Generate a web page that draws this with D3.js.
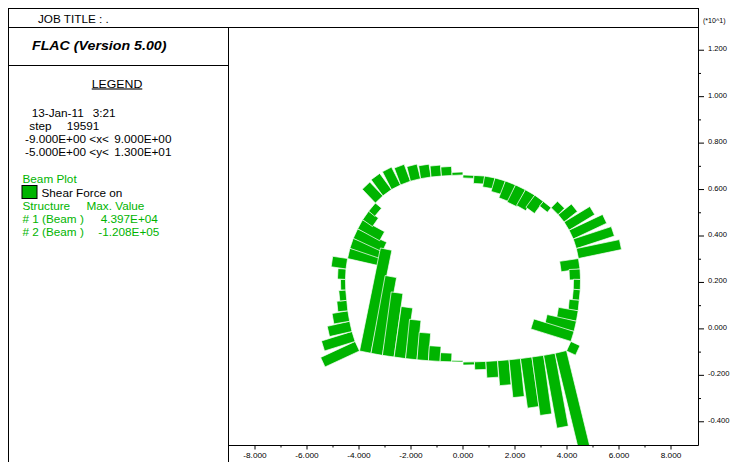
<!DOCTYPE html>
<html>
<head>
<meta charset="utf-8">
<script src="https://cdn.jsdelivr.net/npm/d3@7"></script>
<style>
  html, body { margin: 0; padding: 0; background: #fff; }
  svg { display: block; font-family: "Liberation Sans", Arial, sans-serif; }
</style>
</head>
<body>
<svg id="chart" width="732" height="465"></svg>
<script>
// ---- model window and axis ticks (metres; labels are shown in units of 10) ----
const xDomain = [-9, 9];
const yDomain = [-5, 13];
const xTicks = [-8, -6, -4, -2, 0, 2, 4, 6, 8];
const xMinorTicks = [-7, -5, -3, -1, 1, 3, 5, 7];
const xTickLabels = ["-8.000", "-6.000", "-4.000", "-2.000", "0.000", "2.000", "4.000", "6.000", "8.000"];
const yTicks = [-4, -2, 0, 2, 4, 6, 8, 10, 12];
const yMinorTicks = [-3, -1, 1, 3, 5, 7, 9, 11];
const yTickLabels = ["-0.400", "-0.200", "0.000", "0.200", "0.400", "0.600", "0.800", "1.000", "1.200"];

// ---- structure 1: tunnel lining, nodes from the left invert corner over the crown ----
const liningX = [-3.98, -4.15, -4.27, -4.36, -4.43, -4.47, -4.51, -4.52, -4.50, -4.44, -4.35, -4.22, -4.05,
  -3.86, -3.63, -3.37, -3.08, -2.75, -2.40, -2.02, -1.63, -1.23, -0.83, -0.42, 0,
  0.42, 0.83, 1.23, 1.63, 2.02, 2.40, 2.76, 3.09, 3.39, 3.66, 3.89, 4.08, 4.24, 4.36,
  4.44, 4.50, 4.52, 4.51, 4.47, 4.43, 4.36, 4.27, 4.15, 3.98];
const liningY = [-0.95, -0.54, -0.11, 0.33, 0.78, 1.23, 1.68, 2.13, 2.58, 3.03, 3.47, 3.90, 4.31,
  4.70, 5.07, 5.42, 5.73, 6.00, 6.20, 6.36, 6.47, 6.54, 6.58, 6.61, 6.63,
  6.61, 6.58, 6.50, 6.37, 6.20, 5.99, 5.76, 5.49, 5.22, 4.92, 4.60, 4.25, 3.87, 3.46,
  3.03, 2.58, 2.13, 1.68, 1.23, 0.78, 0.33, -0.11, -0.54, -0.95];
// shear force per beam element (N)
const liningShear = [38000, 32000, 23000, 16000, 10000, 7000, 5000, 8000, 15000,
  -35000, -34000, -32000, -25000, -12000, -8000,
  19000, 20000, 20000, 18000, 15000, 13000, 11000, 9000, 3000,
  -3000, -8000, -11000, -14000, -18000, -19000, -18000, -15000, -6000,
  9000, 17000, 30000, 37000, 40000, 43970,
  -19000, -11000, -7000, -7000, -10000, -20000, -30000, -42000, 10000];

// ---- structure 2: invert, nodes from left corner to right corner ----
const invertX = [-3.98, -3.54, -3.10, -2.65, -2.21, -1.77, -1.33, -0.88, -0.44, 0,
  0.44, 0.88, 1.33, 1.77, 2.21, 2.65, 3.10, 3.54, 3.98];
const invertY = [-0.95, -1.05, -1.14, -1.21, -1.28, -1.33, -1.37, -1.40, -1.42, -1.43,
  -1.42, -1.40, -1.37, -1.33, -1.28, -1.21, -1.14, -1.05, -0.93];
const invertShear = [105000, 79000, 64000, 51000, 39500, 27500, 15000, 8700, 1500,
  -3000, -8000, -16500, -25000, -38000, -50000, -59000, -74000, -120800];

// ---- legend text ----
const legendHeader = ["JOB TITLE : .", "FLAC (Version 5.00)", "LEGEND"];
const legendInfo = [["13-Jan-11", "3:21"], ["step", "19591"],
  ["-9.000E+00 <x<", "9.000E+00"], ["-5.000E+00 <y<", "1.300E+01"]];
const structureNames = ["# 1 (Beam )", "# 2 (Beam )"];
const structureMax = ["4.397E+04", "-1.208E+05"];

const GREEN = "#00b400";
const STRETCH = 1.12;   // text is drawn slightly wide, as in the plotter output

const svg = d3.select("#chart");
const plot = { left: 229, right: 697, top: 27, bottom: 445 };

const x = d3.scaleLinear().domain(xDomain).range([plot.left, plot.right]);
const y = d3.scaleLinear().domain(yDomain).range([plot.bottom, plot.top]);
// bar length in pixels per unit of shear force
const barLen = d3.scaleLinear().domain([0, 43970]).range([0, 44]);

function txt(g, s, px, py, size, opts = {}) {
  return g.append("text")
    .attr("transform", `translate(${px},${py}) scale(${STRETCH},1)`)
    .attr("font-size", size)
    .attr("fill", opts.fill || "#000")
    .attr("font-weight", opts.weight || null)
    .attr("font-style", opts.style || null)
    .attr("text-anchor", opts.anchor || "start")
    .attr("text-decoration", opts.deco || null)
    .text(s);
}

// ---- frame ----
const frame = svg.append("g").attr("stroke", "#000").attr("stroke-width", 1).attr("fill", "none");
frame.append("line").attr("x1", 8).attr("x2", 698.5).attr("y1", 8.5).attr("y2", 8.5);
frame.append("line").attr("x1", 8).attr("x2", 698.5).attr("y1", 27.5).attr("y2", 27.5);
frame.append("line").attr("x1", 8.5).attr("x2", 8.5).attr("y1", 8).attr("y2", 462);
frame.append("line").attr("x1", 228.5).attr("x2", 228.5).attr("y1", 27).attr("y2", 462);
frame.append("line").attr("x1", 8).attr("x2", 228.5).attr("y1", 65.5).attr("y2", 65.5);
frame.append("line").attr("x1", 698.5).attr("x2", 698.5).attr("y1", 8).attr("y2", plot.bottom + 0.5);

// ---- header / legend ----
const lg = svg.append("g");
txt(lg, legendHeader[0], 38, 22.5, 10.5);
txt(lg, legendHeader[1], 32, 50, 12.7, { weight: "bold", style: "italic" });
txt(lg, legendHeader[2], 117, 87.5, 11, { anchor: "middle", deco: "underline" });

const infoRows = [
  { y: 116.7, x0: 31.7, x1: 92.7 },
  { y: 129.5, x0: 29.3, x1: 66.7 },
  { y: 143.3, x0: 25, x1: 114.3 },
  { y: 156.2, x0: 25, x1: 114.3 }
];
legendInfo.forEach((r, i) => {
  txt(lg, r[0], infoRows[i].x0, infoRows[i].y, 10.5);
  txt(lg, r[1], infoRows[i].x1, infoRows[i].y, 10.5);
});

txt(lg, "Beam Plot", 22.5, 183.3, 10.5, { fill: GREEN });
lg.append("rect").attr("x", 22).attr("y", 185.5).attr("width", 15).attr("height", 13)
  .attr("fill", GREEN).attr("stroke", "#000").attr("stroke-width", 1);
txt(lg, "Shear Force on", 41.5, 196.7, 10.5);
txt(lg, "Structure", 22.5, 210, 10.5, { fill: GREEN });
txt(lg, "Max. Value", 86.5, 210, 10.5, { fill: GREEN });
structureNames.forEach((n, i) => {
  const yy = 223.3 + i * 12.8;
  txt(lg, n, 22.5, yy, 10.5, { fill: GREEN });
  txt(lg, structureMax[i], i === 0 ? 100.7 : 98.3, yy, 10.5, { fill: GREEN });
});

// ---- beam shear-force bars ----
svg.append("clipPath").attr("id", "plotClip").append("rect")
  .attr("x", plot.left).attr("y", plot.top)
  .attr("width", plot.right - plot.left + 1).attr("height", plot.bottom - plot.top);

function elements(xs, ys, vals) {
  return vals.map((v, i) => ({ x0: xs[i], y0: ys[i], x1: xs[i + 1], y1: ys[i + 1], v }));
}
function barPoints(e) {
  const ax = x(e.x0), ay = y(e.y0), bx = x(e.x1), by = y(e.y1);
  const dx = bx - ax, dy = by - ay, len = Math.hypot(dx, dy);
  const nx = dy / len, ny = -dx / len;
  const h = Math.sign(e.v) * barLen(Math.abs(e.v));
  return [[ax, ay], [bx, by], [bx + nx * h, by + ny * h], [ax + nx * h, ay + ny * h]]
    .map(p => p.join(",")).join(" ");
}

const bars = svg.append("g").attr("clip-path", "url(#plotClip)");
const allElements = elements(liningX, liningY, liningShear)
  .concat(elements(invertX, invertY, invertShear));
bars.selectAll("polygon").data(allElements).join("polygon")
  .attr("points", barPoints)
  .attr("fill", GREEN)
  .attr("stroke", "#fff")
  .attr("stroke-width", 0.7);

// ---- axes ----
const ax = svg.append("g");
ax.append("line").attr("x1", plot.left - 1).attr("x2", 698.5)
  .attr("y1", plot.bottom + 0.5).attr("y2", plot.bottom + 0.5).attr("stroke", "#000");

ax.selectAll(".xmaj").data(xTicks).join("line")
  .attr("x1", d => x(d)).attr("x2", d => x(d))
  .attr("y1", plot.bottom).attr("y2", plot.bottom + 4.5).attr("stroke", "#000");
ax.selectAll(".xmin").data(xMinorTicks).join("line")
  .attr("x1", d => x(d)).attr("x2", d => x(d))
  .attr("y1", plot.bottom).attr("y2", plot.bottom + 2.5).attr("stroke", "#000");
xTicks.forEach((t, i) => txt(ax, xTickLabels[i], x(t), 458, 7.4, { anchor: "middle" }));

ax.selectAll(".ymaj").data(yTicks).join("line")
  .attr("x1", 698).attr("x2", 704)
  .attr("y1", d => y(d)).attr("y2", d => y(d)).attr("stroke", "#000");
ax.selectAll(".ymin").data(yMinorTicks).join("line")
  .attr("x1", 698).attr("x2", 701)
  .attr("y1", d => y(d)).attr("y2", d => y(d)).attr("stroke", "#000");
yTicks.forEach((t, i) => txt(ax, yTickLabels[i], 708, y(t) + 1, 6.8));
txt(ax, "(*10^1)", 703, 23, 6.3);
</script>
</body>
</html>
